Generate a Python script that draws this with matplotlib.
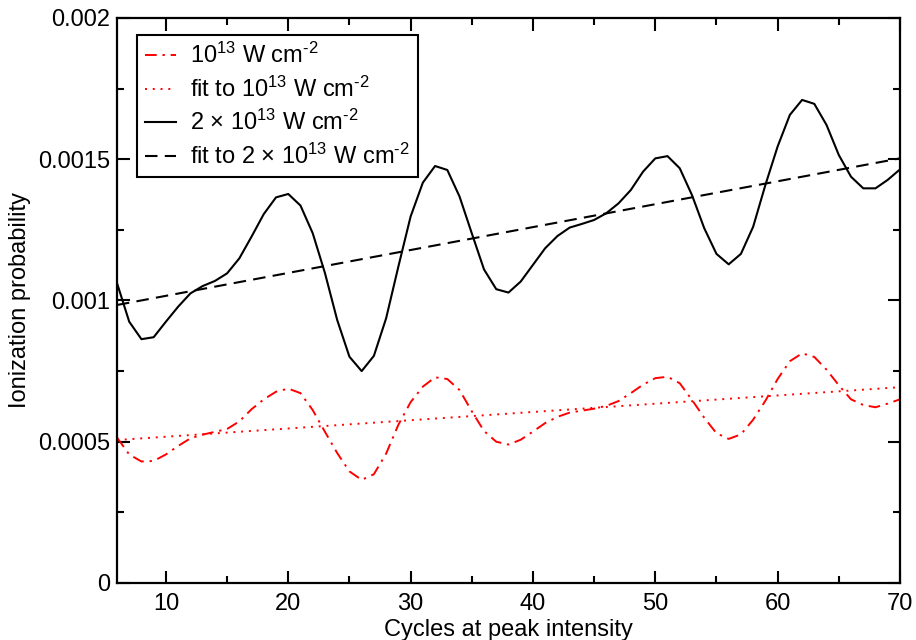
import numpy as np
import matplotlib
matplotlib.use("Agg")
import matplotlib.pyplot as plt
from matplotlib.ticker import MultipleLocator

plt.rcParams['font.family'] = ['Liberation Sans', 'DejaVu Sans']
plt.rcParams['mathtext.fontset'] = 'custom'
plt.rcParams['mathtext.rm'] = 'Liberation Sans'
plt.rcParams['mathtext.it'] = 'Liberation Sans'
plt.rcParams['mathtext.bf'] = 'Liberation Sans'

# %% Data
cycles = np.arange(6, 71)

prob_1e13 = [
    0.000515, 0.000455, 0.000430, 0.000432, 0.000455, 0.000485, 0.000512,
    0.000525, 0.000535, 0.000545, 0.000572, 0.000615, 0.000650, 0.000677,
    0.000688, 0.000672, 0.000612, 0.000535, 0.000460, 0.000395, 0.000365,
    0.000385, 0.000458, 0.000560, 0.000640, 0.000695, 0.000728, 0.000722,
    0.000683, 0.000608, 0.000538, 0.000500, 0.000490, 0.000507, 0.000536,
    0.000566, 0.000588, 0.000603, 0.000610, 0.000617, 0.000627, 0.000644,
    0.000672, 0.000702, 0.000725, 0.000730, 0.000707, 0.000648, 0.000585,
    0.000530, 0.000510, 0.000526, 0.000578, 0.000645, 0.000722, 0.000785,
    0.000813, 0.000800, 0.000755, 0.000700, 0.000650, 0.000630, 0.000622,
    0.000635, 0.000650,
]

prob_2e13 = [
    0.001062, 0.000925, 0.000863, 0.000870, 0.000925, 0.000978, 0.001025,
    0.001051, 0.001069, 0.001096, 0.001149, 0.001226, 0.001306, 0.001365,
    0.001377, 0.001336, 0.001238, 0.001097, 0.000931, 0.000801, 0.000750,
    0.000804, 0.000937, 0.001120, 0.001297, 0.001417, 0.001476, 0.001462,
    0.001368, 0.001238, 0.001110, 0.001040, 0.001028, 0.001067, 0.001126,
    0.001185, 0.001228, 0.001258, 0.001271, 0.001285, 0.001309, 0.001344,
    0.001391, 0.001456, 0.001503, 0.001511, 0.001468, 0.001373, 0.001256,
    0.001165, 0.001128, 0.001165, 0.001261, 0.001409, 0.001545, 0.001657,
    0.001710, 0.001696, 0.001621, 0.001515, 0.001438, 0.001397, 0.001397,
    0.001427, 0.001464,
]

# linear fits, endpoints at x = 6 and x = 70
fit_x = [6, 70]
fit_1e13 = [0.000506, 0.000693]
fit_2e13 = [0.000984, 0.001503]

labels = [
    r'10$^{13}$ W cm$^{\text{-2}}$',
    r'fit to 10$^{13}$ W cm$^{\text{-2}}$',
    r'2 × 10$^{13}$ W cm$^{\text{-2}}$',
    r'fit to 2 × 10$^{13}$ W cm$^{\text{-2}}$',
]

# %% Plot
fig = plt.figure(figsize=(9.16, 6.4), dpi=100)
ax = fig.add_axes([0.1277, 0.0891, 0.8548, 0.8828])

ax.plot(cycles, prob_1e13, color='red', lw=1.4, ls=(0, (6, 3, 1.2, 3)), label=labels[0])
ax.plot(fit_x, fit_1e13, color='red', lw=1.4, ls=(0, (1, 3)), label=labels[1])
ax.plot(cycles, prob_2e13, color='black', lw=1.5, label=labels[2])
ax.plot(fit_x, fit_2e13, color='black', lw=1.5, ls=(0, (6, 3.5)), label=labels[3])

ax.set_xlim(6, 70)
ax.set_ylim(0, 0.002)
ax.xaxis.set_major_locator(MultipleLocator(10))
ax.xaxis.set_minor_locator(MultipleLocator(5))
ax.yaxis.set_minor_locator(MultipleLocator(0.00025))
ax.set_yticks([0, 0.0005, 0.001, 0.0015, 0.002])
ax.set_yticklabels(['0', '0.0005', '0.001', '0.0015', '0.002'])

ax.tick_params(which='both', direction='in', top=True, right=True,
               labelsize=17, width=1.5, pad=5)
ax.tick_params(axis='x', which='both', pad=7)
ax.tick_params(which='major', length=9)
ax.tick_params(which='minor', length=5)
for s in ax.spines.values():
    s.set_linewidth(1.6)

ax.set_xlabel('Cycles at peak intensity', fontsize=17, labelpad=3)
ax.set_ylabel('Ionization probability', fontsize=17, labelpad=5)

leg = ax.legend(loc='upper left', bbox_to_anchor=(0.025, 0.97), borderaxespad=0,
                fontsize=17, handlelength=1.3, handletextpad=0.6,
                labelspacing=0.35, fancybox=False, framealpha=1,
                edgecolor='black', borderpad=0.35)
leg.get_frame().set_linewidth(1.5)

fig.savefig('out.png', dpi=100)
